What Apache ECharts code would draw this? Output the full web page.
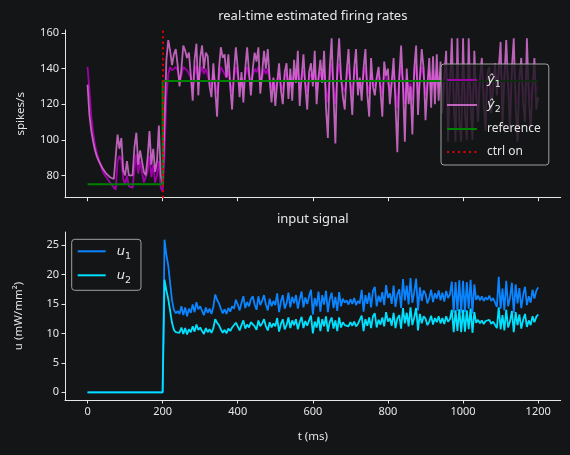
<!DOCTYPE html>
<html>
<head>
<meta charset="utf-8">
<script src="https://cdn.jsdelivr.net/npm/echarts@6/dist/echarts.min.js"></script>
<style>
html,body{margin:0;padding:0;background:#141517;}
#chart{width:570px;height:455px;}
</style>
</head>
<body>
<div id="chart"></div>
<script>
// sampling step (ms)
const dtMs = 5;
const xTicks = [0, 200, 400, 600, 800, 1000, 1200];
const yTopTicks = [80, 100, 120, 140, 160];
const yBotTicks = [0, 5, 10, 15, 20, 25];
const refLevels = [75, 133];
const ctrlOnTime = 200;
const tEnd = 1200;

// estimated firing rate, neuron 1 (t = 0..1200 ms)
const y1 = [
141,128,113,104,97,92.5,89,86,82.5,80.5, 79,77.5,76,74.5,73.5,72,88,91,89,78,
75,80,74,73,73,84,92,81,88,82, 76,75,82,91,79,86,76,80,88,73,
71,92,124,137,141,139,140,141,139,134, 136,141,141,139,140,135,129,137,142,131,
138,141,137,140,139,132,130,137,132,126, 135,141,139,139,135,139,132,127,135,141,
136,130,135,129,136,141,136,131,136,140, 138,141,131,135,140,137,140,134,129,134,
128,133,137,131,128,135,138,130,136,129, 138,133,140,128,134,139,132,127,135,137,
132,140,128,134,138,133,140,128,121,136, 143,130,120,136,143,134,130,127,135,141,
132,126,136,141,130,134,129,136,141,131, 126,138,132,130,134,137,131,126,138,135,
136,128,133,139,128,118,134,142,132,120, 136,128,132,122,136,142,126,134,141,136,
125,132,139,128,139,128,140,129,138,126, 134,140,120,132,143,128,120,143,124,120,
143,126,120,143,128,120,140,130,124,134, 139,128,122,136,137,126,132,138,130,136,
142,123,134,143,132,122,136,143,128,120, 134,139,128,124,143,130,122,132,139,127,
130
];
// estimated firing rate, neuron 2
const y2 = [
131,114,105,99,94,90.5,88,86,84,82.5, 81,80,79,78.5,78,78,103,95,101,83,
80,88,80,79,80,96,104,86,94,88, 82,80,90,105,86,95,82,88,108,80,
75,110,145,156,150,142,148,151,142,130, 140,153,150,146,149,136,122,145,154,125,
146,153,140,149,147,130,124,143,128,113, 140,152,146,148,135,148,130,117,138,152,
140,124,138,121,140,152,138,125,140,149, 144,152,126,138,150,140,151,134,121,135,
119,132,143,128,120,138,143,123,140,122, 145,132,150,119,135,148,130,117,138,143,
130,150,120,135,145,132,150,118,101,140, 157,125,98,140,157,135,124,117,138,151,
130,114,140,151,125,135,122,140,151,126, 113,146,130,125,135,141,128,113,144,136,
140,120,132,146,120,93,135,153,130,99, 140,120,130,103,140,153,114,135,151,140,
111,130,146,118,147,120,148,122,144,115, 135,150,99,130,157,120,99,157,110,99,
157,115,100,157,120,100,150,125,110,135, 146,120,105,138,141,115,130,143,125,140,
155,107,135,156,130,105,140,157,120,99, 135,146,120,110,157,125,105,130,146,117,
124
];
// input signal 1
const u1 = [
0,0,0,0,0,0,0,0,0,0, 0,0,0,0,0,0,0,0,0,0,
0,0,0,0,0,0,0,0,0,0, 0,0,0,0,0,0,0,0,0,0,
0,25.9,23.3,21.5,18.5,15.6,14,13.4,13.8,13.3, 14.6,13.1,14.4,12.9,14.2,13.5,14.9,13.6,15.3,14.1,
14.6,13.8,13.1,14.4,13.5,14.2,13.3,14.5,16.6,15.7, 15.1,14.2,13.4,14.1,13.3,14.3,13.7,14.6,14.2,15.7,
14.9,13.9,15.2,16.3,14.3,15.3,14.6,15.8,16.3,14.9, 14.0,16.3,14.8,15.5,16.5,14.9,13.9,15.9,14.6,15.5,
14.8,16.8,13.6,15.4,16.5,14.2,15.1,16.9,14.4,16.2, 15.1,16.5,14.2,15.8,17.1,14.4,16.1,15.0,16.3,17.4,
13.2,16.0,14.6,17.1,13.7,16.5,14.9,17.2,13.6,15.8, 16.9,14.3,16.2,13.8,17.0,14.6,15.9,15.2,15.6,14.9,
15.8,15.0,16.0,14.8,15.5,15.1,17.4,13.7,16.5,15.0, 16.9,14.4,17.2,17.9,14.6,16.4,15.3,17.0,14.8,18.2,
16.0,16.8,15.0,18.1,14.5,16.6,17.5,14.3,19.2,15.6, 18.1,14.9,19.4,15.2,17.0,19.3,13.9,17.8,15.5,17.3,
16.7,15.1,16.0,17.4,15.3,16.8,15.9,17.3,15.6,16.9, 15.4,17.2,16.0,16.6,18.8,13.5,18.7,13.8,19.0,13.5,
18.9,13.6,18.7,14.2,19.1,13.4,18.3,15.7,16.4,15.6, 16.3,15.5,16.1,15.7,16.4,15.5,16.0,15.8,14.5,19.6,
14.2,17.6,13.9,18.9,14.6,16.0,18.6,13.5,18.3,15.1, 17.7,14.3,16.5,17.9,14.8,16.3,15.2,17.4,15.9,17.2,
17.8
];
// input signal 2
const u2 = [
0,0,0,0,0,0,0,0,0,0, 0,0,0,0,0,0,0,0,0,0,
0,0,0,0,0,0,0,0,0,0, 0,0,0,0,0,0,0,0,0,0,
0,19.1,17.3,15.8,13.8,11.8,10.6,10.2,10.4,10.1, 11.0,9.9,10.9,9.8,10.7,10.2,11.2,10.3,11.5,10.6,
11.0,10.4,9.9,10.9,10.2,10.7,10.1,10.9,12.4,11.8, 11.4,10.7,10.1,10.6,10.0,10.8,10.4,11.0,10.7,11.8,
11.2,10.5,11.4,12.2,10.8,11.5,11.0,11.9,12.2,11.2, 10.6,12.2,11.2,11.7,12.4,11.2,10.5,11.9,11.0,11.7,
11.2,12.6,10.3,11.6,12.4,10.7,11.4,12.7,10.9,12.2, 11.4,12.4,10.7,11.9,12.8,10.9,12.1,11.3,12.2,13.0,
10.0,12.0,11.0,12.8,10.4,12.4,11.2,12.9,10.3,11.9, 12.7,10.8,12.2,10.4,12.7,11.0,11.9,11.4,11.7,11.2,
11.9,11.3,12.0,11.2,11.6,11.4,13.0,10.4,12.4,11.3, 12.7,10.9,12.9,13.4,11.0,12.3,11.5,12.7,11.2,13.6,
12.0,12.6,11.3,13.5,10.9,12.5,13.1,10.8,14.3,11.7, 13.5,11.2,14.4,11.4,12.7,14.3,10.5,13.3,11.7,12.9,
12.5,11.4,12.0,13.0,11.5,12.6,11.9,12.9,11.7,12.6, 11.6,12.9,12.0,12.4,14.0,10.2,13.9,10.4,14.1,10.2,
14.0,10.3,13.9,10.7,14.2,10.1,13.6,11.8,12.3,11.7, 12.2,11.6,12.1,11.8,12.3,11.6,12.0,11.9,10.9,14.4,
10.7,13.1,10.5,14.0,11.0,12.0,13.8,10.2,13.6,11.4, 13.2,10.8,12.3,13.3,11.1,12.2,11.4,12.9,11.9,12.8,
13.2
];

const pairs = arr => arr.map((v, i) => [i * dtMs, v]);
const refData = [[0, refLevels[0]], [ctrlOnTime, refLevels[1]], [tEnd, refLevels[1]]];

const FONT = 'Noto Sans';
const TXT = '#e6e6e6';
const AX = '#e6e6e6';

function xAxisCfg(grid, showLabels) {
  return {
    type: 'value', gridIndex: grid, min: -60, max: 1260,
    axisLine: {show: true, onZero: false, lineStyle: {color: AX, width: 1}},
    axisTick: {show: true, customValues: xTicks, length: 3.5, lineStyle: {color: AX, width: 1}},
    axisLabel: {show: showLabels, customValues: xTicks, formatter: v => String(v),
      color: TXT, fontSize: 11, fontFamily: FONT, margin: 6},
    splitLine: {show: false},
    name: showLabels ? 't (ms)' : '', nameLocation: 'middle', nameGap: 31,
    nameTextStyle: {color: TXT, fontSize: 11.5, fontFamily: FONT}
  };
}
function yAxisCfg(grid, min, max, ticks, name, gap) {
  return {
    type: 'value', gridIndex: grid, min: min, max: max,
    axisLine: {show: true, onZero: false, lineStyle: {color: AX, width: 1}},
    axisTick: {show: true, customValues: ticks, length: 3.5, lineStyle: {color: AX, width: 1}},
    axisLabel: {show: true, customValues: ticks, formatter: v => String(v),
      color: TXT, fontSize: 11, fontFamily: FONT, margin: 6},
    splitLine: {show: false},
    name: name, nameLocation: 'middle', nameGap: gap,
    nameTextStyle: {color: TXT, fontSize: 11.5, fontFamily: FONT}
  };
}

const richStyle = {
  i: {fontSize: 13, fontStyle: 'italic', fontFamily: 'DejaVu Sans', color: TXT, lineHeight: 20, verticalAlign: 'middle'},
  s: {fontSize: 9.5, fontFamily: 'DejaVu Sans', color: TXT, lineHeight: 12, verticalAlign: 'bottom'}
};
const nameMap = {
  'y1': '{i|ŷ}{s|1}', 'y2': '{i|ŷ}{s|2}', 'u1': '{i|u}{s|1}', 'u2': '{i|u}{s|2}'
};

const chart = echarts.init(document.getElementById('chart'), null, {renderer: 'canvas'});
chart.setOption({
  backgroundColor: '#141517',
  animation: false,
  title: [
    {text: 'real-time estimated firing rates', left: 312.8, top: 10, textAlign: 'center', padding: 0,
     textStyle: {color: TXT, fontSize: 13, fontWeight: 'normal', fontFamily: FONT}},
    {text: 'input signal', left: 312.8, top: 213, textAlign: 'center', padding: 0,
     textStyle: {color: TXT, fontSize: 13, fontWeight: 'normal', fontFamily: FONT}}
  ],
  grid: [
    {left: 65, top: 30, width: 495.7, height: 167.7},
    {left: 65, top: 232, width: 495.7, height: 168}
  ],
  xAxis: [xAxisCfg(0, false), xAxisCfg(1, true)],
  yAxis: [
    yAxisCfg(0, 67.5, 161.7, yTopTicks, 'spikes/s', 38),
    yAxisCfg(1, -1.3, 27.2, yBotTicks, 'u (mW/mm²)', 40)
  ],
  legend: [
    {
      orient: 'vertical', left: 441, top: 64, itemWidth: 30, itemHeight: 12, itemGap: 5,
      padding: [6, 8, 4, 5],
      backgroundColor: 'rgba(20,21,23,0.8)', borderColor: '#a0a0a0', borderWidth: 1, borderRadius: 3,
      data: ['y1', 'y2', 'reference', 'ctrl on'],
      itemStyle: {opacity: 0},
      formatter: n => nameMap[n] || n,
      textStyle: {color: TXT, fontSize: 12, fontFamily: FONT, padding: [0, 0, 0, 5], lineHeight: 18, rich: richStyle},
      selectedMode: false
    },
    {
      orient: 'vertical', left: 71.7, top: 239.3, itemWidth: 28, itemHeight: 12, itemGap: 4,
      padding: [2, 10, 5, 5],
      backgroundColor: 'rgba(20,21,23,0.8)', borderColor: '#a0a0a0', borderWidth: 1, borderRadius: 3,
      data: ['u1', 'u2'],
      itemStyle: {opacity: 0},
      formatter: n => nameMap[n] || n,
      textStyle: {color: TXT, fontSize: 12, fontFamily: FONT, padding: [0, 0, 0, 6], lineHeight: 20, rich: richStyle},
      selectedMode: false
    }
  ],
  series: [
    {name: 'y1', type: 'line', xAxisIndex: 0, yAxisIndex: 0, data: pairs(y1), showSymbol: false, symbol: 'none',
     lineStyle: {color: '#a000aa', width: 1.8}, itemStyle: {color: '#a000aa'}},
    {name: 'y2', type: 'line', xAxisIndex: 0, yAxisIndex: 0, data: pairs(y2), showSymbol: false, symbol: 'none',
     lineStyle: {color: 'rgba(218,112,214,0.85)', width: 1.8}, itemStyle: {color: 'rgba(218,112,214,0.85)'}},
    {name: 'reference', type: 'line', xAxisIndex: 0, yAxisIndex: 0, data: refData, step: 'end', showSymbol: false, symbol: 'none',
     lineStyle: {color: '#008000', width: 2}, itemStyle: {color: '#008000'}},
    {name: 'ctrl on', type: 'line', xAxisIndex: 0, yAxisIndex: 0, data: [], showSymbol: false, symbol: 'none',
     lineStyle: {color: '#e00000', width: 2, type: [2, 3.5]}, itemStyle: {color: '#e00000'},
     markLine: {silent: true, symbol: ['none', 'none'], label: {show: false},
       lineStyle: {color: '#e00000', width: 2, type: [2, 3.5]}, data: [{xAxis: ctrlOnTime}]}},
    {name: 'u1', type: 'line', xAxisIndex: 1, yAxisIndex: 1, data: pairs(u1), showSymbol: false, symbol: 'none',
     lineStyle: {color: '#0a84ff', width: 1.8}, itemStyle: {color: '#0a84ff'}},
    {name: 'u2', type: 'line', xAxisIndex: 1, yAxisIndex: 1, data: pairs(u2), showSymbol: false, symbol: 'none',
     lineStyle: {color: '#00e0ff', width: 1.8}, itemStyle: {color: '#00e0ff'}}
  ]
});
</script>
</body>
</html>
